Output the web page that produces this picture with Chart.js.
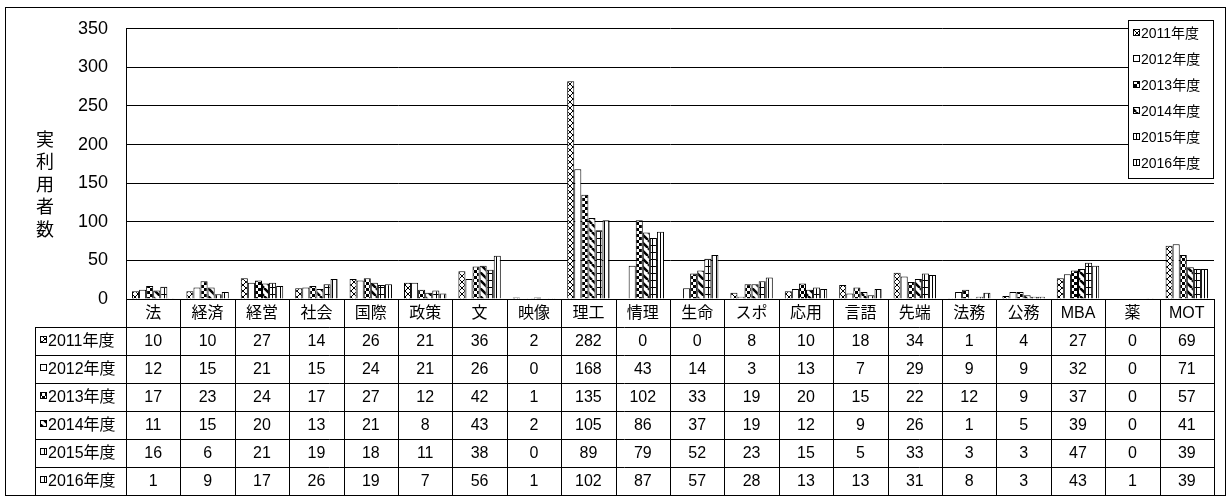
<!DOCTYPE html>
<html>
<head>
<meta charset="utf-8">
<script src="https://cdn.jsdelivr.net/npm/chart.js@4"></script>
<style>
  html, body { margin: 0; padding: 0; background: #fff; }
  #wrap { width: 1231px; height: 497px; }
</style>
</head>
<body>
<div id="wrap"><canvas id="usersChart" width="1231" height="497"></canvas></div>
<script>
// categories (faculties) and yearly values
const categories = ['法', '経済', '経営', '社会', '国際', '政策', '文', '映像', '理工', '情理',
  '生命', 'スポ', '応用', '言語', '先端', '法務', '公務', 'MBA', '薬', 'MOT'];
const years = ['2011年度', '2012年度', '2013年度', '2014年度', '2015年度', '2016年度'];
const v2011 = [10, 10, 27, 14, 26, 21, 36, 2, 282, 0, 0, 8, 10, 18, 34, 1, 4, 27, 0, 69];
const v2012 = [12, 15, 21, 15, 24, 21, 26, 0, 168, 43, 14, 3, 13, 7, 29, 9, 9, 32, 0, 71];
const v2013 = [17, 23, 24, 17, 27, 12, 42, 1, 135, 102, 33, 19, 20, 15, 22, 12, 9, 37, 0, 57];
const v2014 = [11, 15, 20, 13, 21, 8, 43, 2, 105, 86, 37, 19, 12, 9, 26, 1, 5, 39, 0, 41];
const v2015 = [16, 6, 21, 19, 18, 11, 38, 0, 89, 79, 52, 23, 15, 5, 33, 3, 3, 47, 0, 39];
const v2016 = [1, 9, 17, 26, 19, 7, 56, 1, 102, 87, 57, 28, 13, 13, 31, 8, 3, 43, 1, 39];
const yMax = 350;
const yStep = 50;
const yTitle = '実利用者数';

const FONT = '"Liberation Sans", Arial, "Noto Sans CJK JP", sans-serif';

// excel-like fill patterns
function makePattern(kind) {
  const c = document.createElement('canvas');
  let w = 6, h = 6;
  if (kind === 'diag') { w = 8; h = 8; }
  if (kind === 'grid') { w = 4; h = 7; }
  if (kind === 'vline') { w = 4; h = 4; }
  c.width = w; c.height = h;
  const g = c.getContext('2d');
  g.fillStyle = '#fff';
  g.fillRect(0, 0, w, h);
  g.fillStyle = '#000';
  g.strokeStyle = '#000';
  if (kind === 'cross') {
    g.lineWidth = 1;
    g.beginPath();
    g.moveTo(0, 0); g.lineTo(w, h);
    g.moveTo(w, 0); g.lineTo(0, h);
    g.stroke();
  } else if (kind === 'checker') {
    g.fillRect(0, 0, 3, 3);
    g.fillRect(3, 3, 3, 3);
  } else if (kind === 'diag') {
    g.lineWidth = 2.5;
    g.beginPath();
    for (const o of [-8, 0, 8]) { g.moveTo(o, 0); g.lineTo(o + 8, 8); }
    g.stroke();
  } else if (kind === 'grid') {
    g.fillRect(0, 0, w, 1);
    g.fillRect(0, 0, 1, h);
  } else if (kind === 'vline') {
    g.fillRect(0, 0, 1, h);
  }
  return g.createPattern(c, 'repeat');
}

const fills = [makePattern('cross'), '#ffffff', makePattern('checker'),
  makePattern('diag'), makePattern('grid'), makePattern('vline')];
const seriesValues = [v2011, v2012, v2013, v2014, v2015, v2016];

const datasets = years.map((label, i) => ({
  label: label,
  data: seriesValues[i],
  backgroundColor: fills[i],
  borderColor: '#000',
  borderWidth: 1,
  categoryPercentage: 0.78,
  barPercentage: 1.0
}));

// the frame, vertical axis title, legend box and data table
const extrasPlugin = {
  id: 'extras',
  afterDraw(chart) {
    const ctx = chart.ctx;
    const area = chart.chartArea;
    const x = chart.scales.x;
    ctx.save();
    ctx.strokeStyle = '#000';
    ctx.lineWidth = 1;

    // outer frame
    ctx.strokeRect(5.5, 7.5, 1220, 488);

    // vertical title
    ctx.fillStyle = '#000';
    ctx.font = '18px "Noto Sans CJK JP", sans-serif';
    ctx.textAlign = 'center';
    ctx.textBaseline = 'middle';
    [...yTitle].forEach((ch, i) => ctx.fillText(ch, 45, 139 + i * 22.5));

    // legend
    const lx = 1128.5, ly = 20.5, lw = 85, lh = 158;
    ctx.fillStyle = '#fff';
    ctx.fillRect(lx, ly, lw, lh);
    ctx.strokeRect(lx, ly, lw, lh);
    ctx.font = '14px ' + FONT;
    ctx.textAlign = 'left';
    chart.data.datasets.forEach((ds, i) => {
      const cy = 33 + i * 26;
      ctx.fillStyle = ds.backgroundColor;
      ctx.fillRect(1133, cy - 4, 7, 7);
      ctx.strokeRect(1133.5, cy - 3.5, 6, 6);
      ctx.fillStyle = '#000';
      ctx.fillText(ds.label, 1141, cy + 1);
    });

    // data table
    const top = area.bottom;
    const headH = 28;
    const rowH = 28;
    const labelLeft = 35;
    const cw = (area.right - area.left) / categories.length;
    const tableBottom = top + headH + rowH * years.length;

    ctx.beginPath();
    for (let i = 0; i <= categories.length; i++) {
      const bx = Math.round(area.left + i * cw) + 0.5;
      ctx.moveTo(bx, top);
      ctx.lineTo(bx, tableBottom);
    }
    ctx.moveTo(labelLeft + 0.5, top + headH);
    ctx.lineTo(labelLeft + 0.5, tableBottom);
    ctx.moveTo(area.left, top + 0.5);
    ctx.lineTo(area.right, top + 0.5);
    for (let r = 0; r <= years.length; r++) {
      const by = Math.round(top + headH + r * rowH) + 0.5;
      ctx.moveTo(labelLeft, by);
      ctx.lineTo(area.right, by);
    }
    ctx.stroke();

    ctx.font = '16px ' + FONT;
    ctx.textAlign = 'center';
    ctx.fillStyle = '#000';
    categories.forEach((c, i) => {
      const cx = x.getPixelForValue(i);
      ctx.fillText(c, cx, top + headH / 2 + 1);
    });
    chart.data.datasets.forEach((ds, r) => {
      const cy = top + headH + rowH * r + rowH / 2 + 1;
      ds.data.forEach((v, i) => {
        ctx.fillText(String(v), x.getPixelForValue(i), cy);
      });
      ctx.fillStyle = ds.backgroundColor;
      ctx.fillRect(40, cy - 6, 7, 7);
      ctx.strokeRect(40.5, cy - 5.5, 6, 6);
      ctx.fillStyle = '#000';
      ctx.textAlign = 'left';
      ctx.fillText(ds.label, 48, cy);
      ctx.textAlign = 'center';
    });
    ctx.restore();
  }
};

const ctx = document.getElementById('usersChart').getContext('2d');
const chart = new Chart(ctx, {
  type: 'bar',
  data: {
    labels: categories,
    datasets: datasets
  },
  options: {
    responsive: false,
    animation: false,
    devicePixelRatio: 1,
    layout: {
      padding: { left: 7, right: 17, top: 19, bottom: 198 }
    },
    plugins: {
      legend: { display: false },
      tooltip: { enabled: false }
    },
    scales: {
      x: {
        display: false
      },
      y: {
        min: 0,
        max: yMax,
        ticks: {
          stepSize: yStep,
          color: '#000',
          padding: 18,
          font: { size: 18, family: FONT }
        },
        grid: {
          color: '#000',
          lineWidth: 1,
          drawTicks: false
        },
        border: { display: true, color: '#000' },
        afterFit(scale) { scale.width = 119; }
      }
    }
  },
  plugins: [extrasPlugin]
});
</script>
</body>
</html>
